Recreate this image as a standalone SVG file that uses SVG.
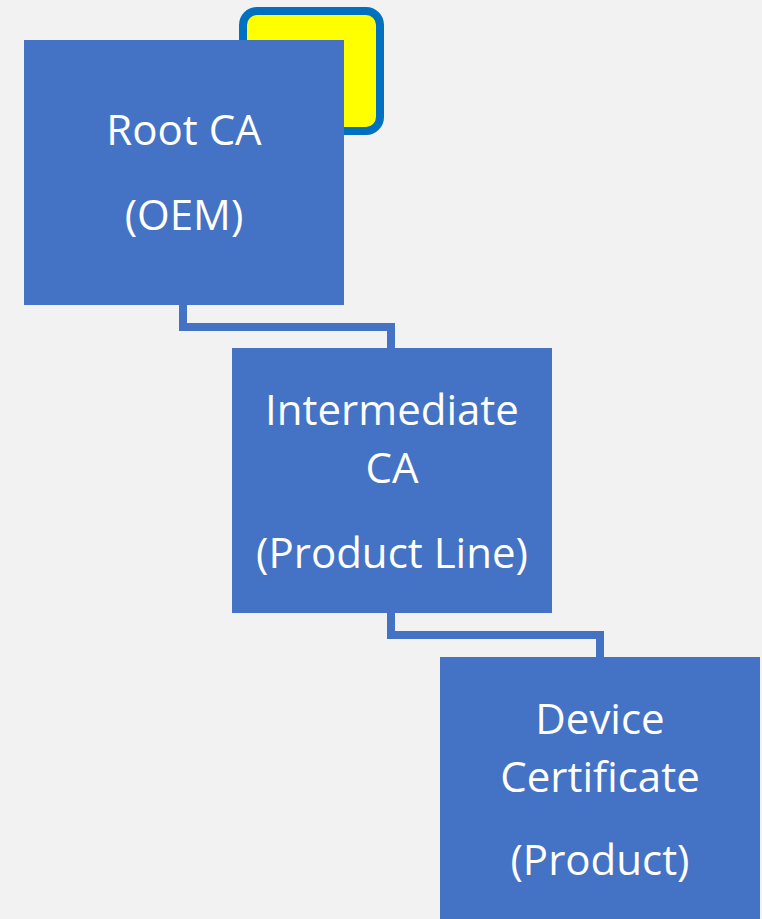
<svg xmlns="http://www.w3.org/2000/svg" width="762" height="919" viewBox="0 0 762 919">
  <style>
    .box { fill: #4472C4; }
    .lbl { fill: #FFFFFF; font-family: "Open Sans", "Noto Sans", "Liberation Sans", sans-serif; font-size: 42px; text-anchor: middle; }
    .link { fill: none; stroke: #4472C4; stroke-width: 8; stroke-linejoin: miter; }
  </style>
  <rect x="0" y="0" width="762" height="919" fill="#F2F2F2"/>

  <!-- highlight tab behind the root certificate -->
  <g id="root-badge">
    <rect x="243" y="11" width="137" height="120" rx="14" ry="14" fill="#FFFF00" stroke="#0070C0" stroke-width="8"/>
  </g>

  <g id="connectors">
    <path class="link" d="M183,305 V327 H391 V348"/>
    <path class="link" d="M391,613 V635 H600 V657"/>
  </g>

  <g id="root-ca">
    <rect class="box" x="24" y="40" width="320" height="265"/>
    <text class="lbl" x="184" y="145">Root CA</text>
    <text class="lbl" x="184" y="230">(OEM)</text>
  </g>

  <g id="intermediate-ca">
    <rect class="box" x="232" y="348" width="320" height="265"/>
    <text class="lbl" x="392" y="425">Intermediate</text>
    <text class="lbl" x="392" y="483">CA</text>
    <text class="lbl" x="392" y="568">(Product Line)</text>
  </g>

  <g id="device-certificate">
    <rect class="box" x="440" y="657" width="320" height="262"/>
    <text class="lbl" x="600" y="734">Device</text>
    <text class="lbl" x="600" y="792">Certificate</text>
    <text class="lbl" x="600" y="875">(Product)</text>
  </g>
</svg>
